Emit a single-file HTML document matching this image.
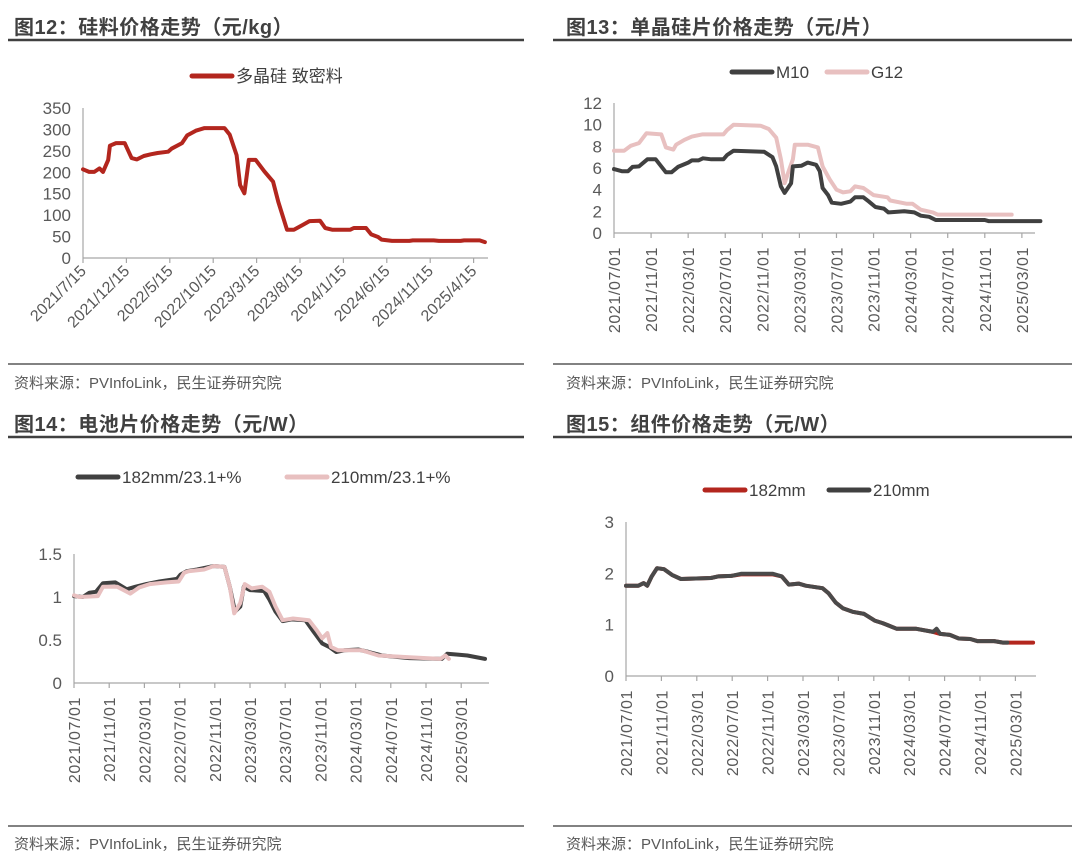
<!DOCTYPE html>
<html><head><meta charset="utf-8">
<style>
body{margin:0;background:#fff;width:1080px;height:859px;overflow:hidden;font-family:"Liberation Sans","Noto Sans CJK SC",sans-serif;}
svg{position:absolute;left:0;top:0;}
</style></head>
<body>
<svg id="s" width="1080" height="859" xmlns="http://www.w3.org/2000/svg" font-family="Liberation Sans, Noto Sans CJK SC, sans-serif"></svg>
<script>
// Chart 1: polysilicon (months since 2021/7/15, value yuan/kg)
const c1Months=[0,0.7,1.3,1.9,2.3,2.9,3.1,3.8,4.8,5.6,6.2,7.0,7.8,8.6,9.8,10.2,11.4,12.0,13.0,14.0,16.3,16.9,17.7,18.1,18.6,19.1,19.9,20.9,21.9,22.5,23.5,24.3,25.3,26.1,27.3,27.9,28.7,30.8,31.2,32.6,33.2,34.0,34.4,35.6,37.6,38.0,40.4,41.0,43.5,43.9,45.7,46.3];
const c1Values=[207,201,201,209,201,229,262,268,268,233,230,238,242,245,248,255,268,286,297,303,303,288,240,170,151,229,229,202,178,131,66,66,77,86,87,70,66,66,70,70,55,49,43,40,40,41,41,40,40,41,41,37];
const c1Ticks=["2021/7/15","2021/12/15","2022/5/15","2022/10/15","2023/3/15","2023/8/15","2024/1/15","2024/6/15","2024/11/15","2025/4/15"];
const c1YTicks=[0,50,100,150,200,250,300,350];
// Chart 2: wafer (months since 2021/07/01)
const m10Months=[0,0.9,1.5,2.0,2.7,3.6,4.5,5.6,6.2,6.9,8.0,8.4,9.1,9.6,10.5,11.8,12.2,12.9,16.2,17.1,17.5,18.0,18.4,19.1,19.3,20.2,20.9,21.8,22.2,22.5,23.1,23.5,24.5,25.5,26.0,26.9,27.5,28.2,29.1,29.6,31.3,32.4,33.1,34.0,34.7,40,40.4,46];
const m10Values=[5.9,5.7,5.7,6.1,6.15,6.8,6.8,5.6,5.6,6.1,6.5,6.7,6.7,6.9,6.8,6.8,7.2,7.6,7.5,7.0,6.15,4.3,3.7,4.6,6.15,6.2,6.5,6.3,5.7,4.15,3.5,2.8,2.7,2.9,3.3,3.3,2.9,2.4,2.25,1.9,2.0,1.9,1.6,1.5,1.2,1.2,1.1,1.1];
const g12Months=[0,1.1,1.8,2.7,3.5,5.1,5.6,6.4,6.7,7.6,8.4,9.5,11.8,12.2,12.9,15.8,16.7,17.5,18.0,18.4,18.9,19.3,19.5,20.9,22.0,22.5,23.3,24.0,24.7,25.5,26.0,26.9,28.0,29.5,29.8,31.6,32.2,33.1,34.4,34.9,42.9];
const g12Values=[7.6,7.6,8.05,8.3,9.2,9.1,7.9,7.7,8.15,8.6,8.9,9.1,9.1,9.5,10.0,9.9,9.6,8.8,6.8,4.6,5.85,6.8,8.15,8.15,7.9,6.15,4.9,4.0,3.75,3.85,4.3,4.15,3.5,3.3,3.0,2.7,2.7,2.15,1.9,1.7,1.7];
const c2YTicks=[0,2,4,6,8,10,12];
const dateTicks=["2021/07/01","2021/11/01","2022/03/01","2022/07/01","2022/11/01","2023/03/01","2023/07/01","2023/11/01","2024/03/01","2024/07/01","2024/11/01","2025/03/01"];
// Chart 3: cells
const c182Months=[0,1.0,1.75,2.5,3.3,4.7,6.0,7.0,8.2,9.7,11.7,12.1,12.8,14.0,15.9,17.1,17.7,18.3,18.9,19.3,20.0,21.6,22.2,22.9,23.7,24.7,26.3,27.2,28.2,29.0,29.8,30.7,32.3,33.5,35.0,38.1,41.8,42.4,43.6,44.7,46.7];
const c182Values=[1.01,1.0,1.05,1.06,1.16,1.17,1.09,1.12,1.15,1.18,1.21,1.26,1.3,1.32,1.36,1.35,1.12,0.83,0.89,1.12,1.08,1.07,0.97,0.83,0.72,0.74,0.73,0.6,0.46,0.42,0.36,0.38,0.39,0.36,0.32,0.29,0.28,0.34,0.33,0.32,0.28];
const c210Months=[0,0.6,2.7,3.3,4.9,6.4,7.4,8.6,10.5,11.9,12.5,13.0,14.8,15.9,17.1,17.7,18.2,18.9,19.4,20.2,21.4,22.2,22.9,23.7,24.9,26.7,27.6,28.2,28.8,29.2,30.0,32.7,34.6,38.1,41.6,42.2,42.6];
const c210Values=[1.02,1.0,1.01,1.12,1.12,1.04,1.11,1.15,1.17,1.18,1.28,1.3,1.32,1.36,1.35,1.12,0.81,0.93,1.15,1.1,1.12,1.06,0.89,0.73,0.75,0.73,0.61,0.52,0.58,0.42,0.38,0.38,0.32,0.3,0.28,0.32,0.28];
const c3YTicks=["0","0.5","1","1.5"];
// Chart 4: modules
const mod210Months=[0,1.4,2.0,2.4,2.9,3.5,4.3,5.2,6.2,9.6,10.4,11.9,13.0,14.9,16.6,17.6,18.4,19.5,20.3,22.2,22.9,23.7,24.5,25.6,26.9,28.1,29.0,30.6,32.8,34.7,35.1,35.5,36.6,37.6,38.9,39.7,41.6,42.6,43.1];
const mod210Values=[1.76,1.76,1.81,1.76,1.94,2.1,2.08,1.97,1.89,1.91,1.94,1.95,1.99,1.99,1.99,1.94,1.78,1.8,1.76,1.71,1.61,1.43,1.32,1.25,1.21,1.08,1.03,0.92,0.92,0.86,0.92,0.82,0.8,0.73,0.72,0.68,0.68,0.65,0.65];
const mod182Months=[0,1.4,2.0,2.4,2.9,3.5,4.3,5.2,6.2,9.6,10.4,11.9,13.0,14.9,16.6,17.6,18.4,19.5,20.3,22.2,22.9,23.7,24.5,25.6,26.9,28.1,29.0,30.6,32.8,34.7,35.5,36.6,37.6,38.9,39.7,41.6,42.6,46.0];
const mod182Values=[1.76,1.76,1.81,1.76,1.94,2.1,2.08,1.97,1.89,1.91,1.94,1.95,1.98,1.98,1.98,1.94,1.78,1.8,1.76,1.71,1.61,1.43,1.32,1.25,1.21,1.08,1.03,0.92,0.92,0.86,0.82,0.8,0.73,0.72,0.68,0.68,0.65,0.65];
const c4YTicks=[0,1,2,3];

const S=document.getElementById('s');
const NS='http://www.w3.org/2000/svg';
function mk(tag,attrs,parent){const e=document.createElementNS(NS,tag);for(const k in attrs)e.setAttribute(k,attrs[k]);(parent||S).appendChild(e);return e;}
function txt(x,y,str,attrs){const t=mk('text',Object.assign({x:x,y:y,fill:'#595959','font-size':14},attrs||{}));t.textContent=str;return t;}

const heads=[[14,34,8,524,'图12：硅料价格走势（元/kg）'],[566,34,553,1072,'图13：单晶硅片价格走势（元/片）'],[14,431,8,524,'图14：电池片价格走势（元/W）'],[566,431,553,1072,'图15：组件价格走势（元/W）']];
heads.forEach(function(h){
  const t=txt(h[0],h[1],h[4],{'font-size':20,'font-weight':'bold',fill:'#404040','letter-spacing':0.5});
  
  
  const l=mk('line',{x1:h[2],x2:h[3],y1:h[1]+6,y2:h[1]+6,stroke:'#404040','stroke-width':2.5});
  
  
});
[[14,364,8,524,388],[566,364,553,1072,388],[14,826,8,524,849],[566,826,553,1072,849]].forEach(function(s){
  const l=mk('line',{x1:s[2],x2:s[3],y1:s[1],y2:s[1],stroke:'#595959','stroke-width':1.5});
  
  
  const t=txt(s[0],s[4],'资料来源：PVInfoLink，民生证券研究院',{'font-size':15,fill:'#595959'});
  
  
});

function axes(cfg){
  const g=mk('g',{});
  
  
  const xs=function(m){return cfg.x0+m*cfg.pxm;};
  const ys=function(v){return cfg.yb-(v/cfg.ymax)*(cfg.yb-cfg.yt);};
  const ya=mk('line',{x1:cfg.x0,x2:cfg.x0,y1:cfg.yt,y2:cfg.yb,stroke:'#a6a6a6','stroke-width':1.2},g);
  
  
  const xa=mk('line',{x1:cfg.x0,x2:cfg.xr,y1:cfg.yb,y2:cfg.yb,stroke:'#a6a6a6','stroke-width':1.2},g);
  
  
  cfg.yTicks.forEach(function(v){
    const t=txt(cfg.x0-12,ys(+v)+6,String(v),{'text-anchor':'end','font-size':17,fill:'#595959'});
    g.appendChild(t);
    
    
  });
  cfg.xTicks.forEach(function(lab,i){
    const x=xs(i*cfg.step);
    const tk=mk('line',{x1:x,x2:x,y1:cfg.yb,y2:cfg.yb+5,stroke:'#a6a6a6','stroke-width':1.2},g);
    
    
    let t;
    if(cfg.rot45){
      t=txt(0,0,lab,{'text-anchor':'end','font-size':16,fill:'#595959',transform:'translate('+(x+4)+','+(cfg.yb+14)+') rotate(-45)'});
    }else{
      t=txt(0,0,lab,{'text-anchor':'end','font-size':16,fill:'#595959','letter-spacing':0.6,transform:'translate('+(x+6)+','+(cfg.yb+14)+') rotate(-90)'});
    }
    g.appendChild(t);
    
    
  });
  return {g:g,xs:xs,ys:ys};
}
function series(ax,months,values,color,name,w){
  let d='';
  months.forEach(function(m,i){d+=(i?'L':'M')+ax.xs(m).toFixed(1)+','+ax.ys(values[i]).toFixed(1);});
  const p=mk('path',{d:d,fill:'none',stroke:color,'stroke-width':w||4,'stroke-linejoin':'round','stroke-linecap':'round'},ax.g);
  
  
}
function legend(x,y,color,label,name){
  const l=mk('line',{x1:x,x2:x+40,y1:y,y2:y,stroke:color,'stroke-width':5,'stroke-linecap':'round'});
  
  
  const t=txt(x+44,y+6,label,{'font-size':17,fill:'#404040'});
  
  
}
const RED='#b3261e',DARK='#404040',PINK='#e8c0c0';

const a1=axes({name:'polysilicon-chart',x0:83,xr:488,yt:108,yb:258,ymax:350,pxm:8.68,step:5,yTicks:c1YTicks,xTicks:c1Ticks,rot45:true});
series(a1,c1Months,c1Values,RED,'polysilicon-line');
legend(192,76,RED,'多晶硅 致密料','legend-polysilicon');

const a2=axes({name:'wafer-chart',x0:614,xr:1035,yt:103,yb:233,ymax:12,pxm:9.27,step:4,yTicks:c2YTicks,xTicks:dateTicks});
series(a2,g12Months,g12Values,PINK,'g12-line');
series(a2,m10Months,m10Values,DARK,'m10-line');
legend(732,72,DARK,'M10','legend-m10');
legend(827,72,PINK,'G12','legend-g12');

const a3=axes({name:'cell-chart',x0:74,xr:489,yt:554,yb:683,ymax:1.5,pxm:8.8,step:4,yTicks:c3YTicks,xTicks:dateTicks});
series(a3,c182Months,c182Values,DARK,'cell-182mm-line');
series(a3,c210Months,c210Values,PINK,'cell-210mm-line');
legend(78,477,DARK,'182mm/23.1+%','legend-cell-182');
legend(287,477,PINK,'210mm/23.1+%','legend-cell-210');

const a4=axes({name:'module-chart',x0:626,xr:1036,yt:522,yb:676,ymax:3,pxm:8.85,step:4,yTicks:c4YTicks,xTicks:dateTicks});
series(a4,mod182Months,mod182Values,RED,'module-182mm-line');
series(a4,mod210Months,mod210Values,'#4a4a4a','module-210mm-line');
legend(705,490,RED,'182mm','legend-module-182');
legend(829,490,DARK,'210mm','legend-module-210');
</script>
</body></html>
